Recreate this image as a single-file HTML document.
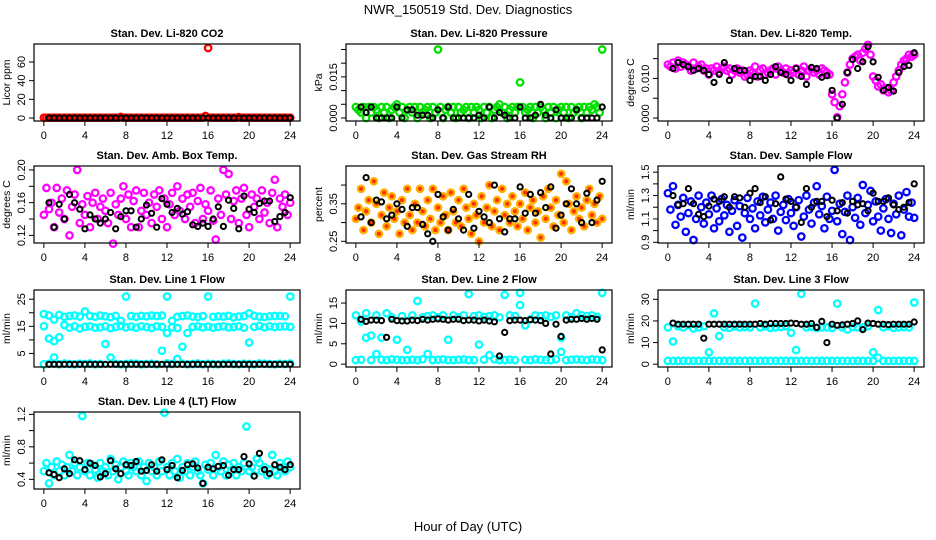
<!DOCTYPE html>
<html><head><meta charset="utf-8"><title>NWR_150519 Std. Dev. Diagnostics</title>
<style>
html,body{margin:0;padding:0;background:#fff;}
svg{display:block;font-family:"Liberation Sans",sans-serif;}
</style></head>
<body>
<svg id="chart" width="936" height="540" viewBox="0 0 936 540" xmlns="http://www.w3.org/2000/svg">
<rect width="936" height="540" fill="#fff"/>
<text x="468" y="14" font-size="13" text-anchor="middle">NWR_150519  Std. Dev. Diagnostics</text>
<text x="468" y="531" font-size="13" text-anchor="middle">Hour of Day (UTC)</text>
</svg>
<script>
// ---- data ----
const co2Red = [0.3,0.3,0.3,0.3,0.3,0.3,0.3,0.3, 0.3,0.3,0.3,0.3,0.3,0.3,0.3,0.3, 0.3,0.3,0.3,0.3,0.3,0.3,0.3,0.3, 0.3,0.3,0.3,0.3,0.3,0.3,1.2,0.3, 0.3,0.3,0.3,0.3,0.3,0.3,0.3,0.3, 0.3,0.3,0.3,0.3,0.3,0.3,0.3,0.3, 0.3,0.3,0.3,0.3,0.3,0.3,0.3,0.3, 0.3,0.3,0.3,0.3,0.3,0.3,0.3,2.2, 75,0.3,0.3,0.3,0.3,0.3,0.3,0.3, 0.3,0.3,0.3,0.3,1.0,0.3,0.3,0.3, 0.3,0.3,0.3,0.3,0.3,0.3,0.3,0.3, 0.3,0.3,0.3,0.3,0.3,0.3,0.3,0.3, 0.3];
const co2Black = [0,0,0,0,0,0,0,0, 0,0,0,0,0,0,0,0, 0,0,0,0,0,0,0,0, 0,0,0,0,0,0,0,0, 0,0,0,0,0,0,0,0, 0,0,0,0,0,0,0,0];
const presGreen = [0.004,0.003,0.002,0.004,0.000,0.004,0.002,0.004, 0.003,0.000,0.004,0.002,0.004,0.000,0.003,0.004, 0.005,0.002,0.004,0.000,0.003,0.004,0.002,0.004, 0.000,0.004,0.002,0.003,0.004,0.000,0.004,0.002, 0.025,0.004,0.000,0.003,0.004,0.002,0.004,0.000, 0.004,0.002,0.003,0.004,0.000,0.004,0.002,0.004, 0.003,0.000,0.004,0.002,0.004,0.000,0.003,0.004, 0.005,0.002,0.004,0.000,0.003,0.004,0.002,0.004, 0.013,0.004,0.002,0.003,0.004,0.000,0.004,0.002, 0.004,0.003,0.000,0.004,0.002,0.004,0.000,0.003, 0.004,0.002,0.004,0.000,0.004,0.002,0.003,0.004, 0.000,0.004,0.002,0.004,0.003,0.005,0.004,0.002, 0.025];
const presBlack = [0.004,0.002,0.004,0,0,0,0,0.004, 0,0.003,0.003,0.001,0.001,0.001,0,0.003, 0,0.004,0,0,0,0,0,0.001, 0,0.004,0,0.002,0.001,0,0,0.004, 0,0,0.001,0.005,0.001,0,0.003,0, 0,0,0.003,0,0,0,0,0.004];
const tempMag = [0.0135,0.013,0.014,0.0125,0.0145,0.013,0.014,0.0135, 0.013,0.012,0.014,0.0125,0.013,0.0135,0.012,0.0125, 0.011,0.0125,0.012,0.013,0.0115,0.0125,0.013,0.012, 0.0125,0.011,0.012,0.0125,0.0115,0.012,0.0105,0.011, 0.012,0.0115,0.013,0.0105,0.012,0.0125,0.011,0.0115, 0.012,0.0125,0.011,0.013,0.012,0.0115,0.0125,0.011, 0.012,0.0115,0.0125,0.011,0.012,0.013,0.0105,0.012, 0.0125,0.0115,0.012,0.011,0.0125,0.012,0.0115,0.011, 0.006,0.004,0.0002,0.003,0.006,0.009,0.0115,0.0135, 0.015,0.0155,0.016,0.0145,0.0165,0.0175,0.0185,0.016, 0.0105,0.0095,0.008,0.0085,0.007,0.0075,0.0065,0.007, 0.009,0.0105,0.012,0.0135,0.0145,0.015,0.016,0.0155, 0.016];
const tempBlack = [0.0125,0.014,0.0135,0.013,0.012,0.0125,0.012,0.011, 0.009,0.011,0.014,0.0095,0.0125,0.012,0.012,0.0095, 0.0105,0.0105,0.0095,0.011,0.013,0.0115,0.011,0.0095, 0.0125,0.0105,0.0085,0.0128,0.0125,0.0103,0.0107,0.007, 0,0.0035,0.0115,0.0148,0.0125,0.0142,0.018,0.0142, 0.0103,0.007,0.0077,0.0068,0.0115,0.013,0.0133,0.0165];
const ambMag = [0.145,0.178,0.152,0.16,0.13,0.178,0.148,0.165, 0.14,0.175,0.12,0.155,0.17,0.2,0.135,0.158, 0.145,0.168,0.13,0.16,0.172,0.14,0.155,0.165, 0.15,0.135,0.172,0.11,0.158,0.145,0.165,0.18, 0.14,0.17,0.13,0.162,0.175,0.13,0.15,0.172, 0.145,0.16,0.135,0.17,0.155,0.175,0.14,0.165, 0.13,0.158,0.172,0.145,0.18,0.15,0.165,0.14, 0.17,0.155,0.172,0.135,0.162,0.178,0.14,0.158, 0.15,0.175,0.138,0.115,0.165,0.145,0.2,0.17, 0.195,0.14,0.162,0.175,0.135,0.165,0.178,0.145, 0.13,0.17,0.155,0.165,0.14,0.175,0.148,0.16, 0.135,0.172,0.188,0.13,0.165,0.155,0.17,0.145, 0.16];
const ambBlack = [0.16,0.13,0.158,0.14,0.17,0.16,0.152,0.128, 0.145,0.14,0.135,0.14,0.148,0.128,0.143,0.15, 0.15,0.13,0.14,0.157,0.147,0.13,0.165,0.158, 0.148,0.153,0.146,0.149,0.133,0.131,0.135,0.131, 0.14,0.155,0.131,0.163,0.153,0.128,0.168,0.152, 0.148,0.159,0.162,0.162,0.137,0.143,0.148,0.166];
const rhOrange = [0.31,0.34,0.39,0.28,0.33,0.36,0.30,0.41, 0.35,0.27,0.32,0.38,0.29,0.34,0.37,0.31, 0.33,0.27,0.36,0.30,0.39,0.32,0.28,0.35, 0.30,0.39,0.33,0.29,0.36,0.31,0.39,0.28, 0.34,0.30,0.37,0.32,0.28,0.38,0.33,0.30, 0.36,0.29,0.39,0.34,0.31,0.27,0.35,0.32, 0.25,0.37,0.30,0.34,0.40,0.29,0.33,0.36, 0.28,0.39,0.32,0.35,0.30,0.37,0.33,0.29, 0.35,0.31,0.38,0.28,0.34,0.36,0.30,0.33, 0.26,0.37,0.31,0.39,0.34,0.29,0.36,0.32, 0.43,0.30,0.41,0.35,0.28,0.33,0.37,0.31, 0.34,0.29,0.36,0.39,0.32,0.35,0.30,0.37, 0.31];
const rhBlack = [0.315,0.42,0.30,0.36,0.355,0.31,0.32,0.35, 0.335,0.29,0.34,0.34,0.295,0.27,0.25,0.375, 0.315,0.28,0.335,0.31,0.28,0.375,0.285,0.33, 0.315,0.30,0.40,0.31,0.275,0.31,0.31,0.395, 0.325,0.375,0.325,0.38,0.34,0.395,0.285,0.32, 0.35,0.39,0.35,0.30,0.378,0.30,0.36,0.41];
const flowBlue = [1.32,1.18,1.38,1.05,1.22,1.12,1.28,0.99, 1.15,1.25,0.92,1.1,1.3,1.2,1.06,1.24, 1.14,1.3,1.02,1.19,1.08,1.27,1.13,1.22, 0.99,1.17,1.26,1.04,1.21,0.94,1.15,1.28, 1.1,1.19,1.02,1.25,1.13,1.29,1.07,1.18, 1.24,1.1,1.3,1.0,1.16,1.22,1.09,1.27, 1.15,1.04,1.2,1.26,0.95,1.12,1.3,1.18, 1.06,1.24,1.38,1.14,1.21,1.02,1.29,1.1, 1.17,1.52,1.08,1.23,0.97,1.16,1.3,0.92, 1.2,1.11,1.28,1.05,1.39,1.15,1.22,1.34, 1.08,1.25,1.12,1.0,1.19,1.27,1.1,0.98, 1.23,1.14,1.3,0.96,1.18,1.33,1.12,1.24, 1.11];
const flowBlack = [1.3,1.22,1.23,1.36,1.23,1.14,1.12,1.21, 1.27,1.25,1.29,1.2,1.29,1.28,1.2,1.32, 1.36,1.24,1.29,1.09,1.23,1.46,1.27,1.25, 1.2,1.07,1.36,1.2,1.25,1.25,1.12,1.26, 1.17,1.24,1.15,1.25,1.22,1.23,1.17,1.32, 1.25,1.25,1.28,1.22,1.18,1.2,1.24,1.4];
const line1Upper = [19.5,19,17.5,19.2,18.5,18.8,19,18.6, 20.5,18.8,18.5,19,18.7,18.4,18.9,17, 26,18.8,18.5,18.9,18.7,19,18.8,19, 26,17,18.5,18.8,19,18.6,18.4,18.8, 26,18.5,18.7,18.6,18.9,18.3,18.6,18.8, 19.8,18.9,18.6,18.4,18.7,18.8,18.9,18.7, 26];
const line1Lower = [15,10.5,9.5,11,15.5,14.5,15,14.2, 14.8,15,14.5,14.6,15,14.3,14.8,15.2, 14.6,14.9,14.5,15,14.7,14.4,15,14.8, 12.5,14.6,14.4,7.5,12.5,14.8,15,14.6, 14.9,14.5,14.8,15,14.6,14.8,15,14.5, 9,14.8,15.2,14.6,15,14.7,14.9,15, 14.8];
const line1Low = [1,1.2,3.5,1,1.3,1.1,1,1.2, 1.1,1.3,1,1.1,8.5,3.5,1.2,1, 1.1,1.3,1.2,1,1.1,1.2,1,6, 1.3,1.1,3,1.2,1,1.1,1.3,1, 1.2,1.1,1,1.2,1.3,1.1,1,1.2, 1.1,1,1.3,1.2,1.1,1,1.2,1.1, 1.3];
const line1Black = [1,1,1,1,1,1,1,1, 1,1,1,1,1,1,1,1, 1,1,1,1,1,1,1,1, 1,1,1,1,1,1,1,1, 1,1,1,1,1,1,1,1, 1,1,1,1,1,1,1,1];
const line2Upper = [12,10.5,12.5,7,12,6.5,12.5,11.5, 6,11.8,3.5,12,15.5,11.5,11.8,12, 11.5,12,6,12,11.5,12,17.2,11.8, 12,11.6,11.8,12,11.5,17,12,11.8, 17.5,9.5,11,12,11.8,12,11.6,12, 6.5,12,11.5,12.5,12,11.8,12,11.6, 17.5];
const line2Low = [1,1.1,6.5,1,2.5,1.1,1,1.2, 1.1,1,1,1.1,1,1.2,2.5,1, 1.1,1.2,1,1,1.1,1.2,1,1, 4.8,1.1,2.2,1.2,1,1,1.1,1, 14.5,1.1,1,1.2,1.1,1,1,1.2, 3,1,1.1,1.2,1.1,1,1.2,1.1, 1];
const line2Black = [11,10.5,10.8,10.8,10.7,6.6,11,10.7, 10.6,10.6,10.8,10.7,11,10.8,11,11.1, 11,10.8,11,11,10.7,10.8,10.8,10.6, 10.8,10.6,10.4,2,7.8,10.7,10.8,10.8, 10.7,10.9,10.8,10.7,10,2.5,9.8,6.8, 10.8,11,11,11.2,11,11.2,11,3.5];
const line3Upper = [17,10.5,17.5,17,18,16.5,17,17.5, 5.5,23.5,13,17,16.8,17.5,17,17.2, 17,28,17,17.5,16.8,17,17.2,17.5, 14.5,6.5,32.5,17,17.2,16.8,17,17, 16.8,28,17,16,17.2,17,17,17.5, 5.5,25,17,17.5,16.8,17,17.2,17, 28.5];
const line3Low = [1.5,1.5,1.5,1.5,1.5,1.5,1.5,1.5, 1.5,1.5,1.5,1.5,1.5,1.5,1.5,1.5, 1.5,1.5,1.5,1.5,1.5,1.5,1.5,1.5, 1.5,1.5,1.5,1.5,1.5,1.5,1.5,1.5, 1.5,1.5,1.5,1.5,1.5,1.5,1.5,1.5, 1.5,3,1.5,1.5,1.5,1.5,1.5,1.5, 1.5];
const line3Black = [19,18.5,18.5,18.5,18.5,18.5,12,18.5, 18.5,18.5,18.5,18.5,18.5,18.5,18.5,18.5, 18.5,18.8,18.5,18.8,18.8,18.8,18.8,19, 18.8,18.5,18.5,18.8,17,19.8,10,18.5, 18,18.2,18.5,18.8,20,16,19,18.8, 18.5,18.5,18.3,18.5,18.5,18.5,18.5,19.5];
const line4Cyan = [0.5,0.6,0.35,0.55,0.45,0.62,0.5,0.58, 0.45,0.55,0.7,0.5,0.6,0.45,0.55,1.18, 0.5,0.6,0.45,0.58,0.52,0.42,0.6,0.5, 0.55,0.45,0.65,0.5,0.58,0.4,0.55,0.62, 0.5,0.45,0.6,0.55,0.5,0.62,0.45,0.55, 0.38,0.6,0.5,0.55,0.45,0.62,0.5,1.22, 0.55,0.45,0.6,0.5,0.65,0.42,0.55,0.5, 0.6,0.45,0.55,0.62,0.5,0.45,0.35,0.58, 0.52,0.6,0.45,0.7,0.55,0.5,0.62,0.45, 0.58,0.5,0.6,0.45,0.55,0.5,0.6,1.05, 0.5,0.55,0.45,0.65,0.6,0.5,0.55,0.45, 0.52,0.7,0.5,0.45,0.6,0.55,0.5,0.62, 0.55];
const line4Black = [0.48,0.46,0.42,0.53,0.47,0.64,0.63,0.52, 0.6,0.57,0.43,0.47,0.63,0.53,0.47,0.58, 0.57,0.62,0.5,0.51,0.58,0.5,0.64,0.52, 0.57,0.42,0.51,0.58,0.59,0.54,0.35,0.55, 0.53,0.56,0.57,0.45,0.52,0.52,0.68,0.59, 0.44,0.72,0.52,0.47,0.58,0.55,0.52,0.58];

const panelTitles = ["Stan. Dev. Li-820 CO2","Stan. Dev. Li-820 Pressure","Stan. Dev. Li-820 Temp.","Stan. Dev. Amb. Box Temp.","Stan. Dev. Gas Stream RH","Stan. Dev. Sample Flow","Stan. Dev. Line 1 Flow","Stan. Dev. Line 2 Flow","Stan. Dev. Line 3 Flow","Stan. Dev. Line 4 (LT) Flow"];
const yTitles = ["Licor ppm","kPa","degrees C","degrees C","percent","ml/min","ml/min","ml/min","ml/min","ml/min"];
const xTicks = [0,4,8,12,16,20,24];

const panels = [
 {ymin:-3.2,ymax:79.3,ticks:[0,20,40,60],labels:["0","20","40","60"],series:[{v:co2Red,c:"#ff0000"},{v:co2Black,c:"#000"}]},
 {ymin:-0.0011,ymax:0.0270,ticks:[0,0.005,0.01,0.015,0.02,0.025],labels:["0.000","","","0.015","",""],series:[{v:presGreen,c:"#00e000"},{v:presBlack,c:"#000"}]},
 {ymin:-0.00075,ymax:0.0187,ticks:[0,0.005,0.01,0.015],labels:["0.000","","0.010",""],series:[{v:tempMag,c:"#ff00ff"},{v:tempBlack,c:"#000"}]},
 {ymin:0.1107,ymax:0.2048,ticks:[0.12,0.14,0.16,0.18,0.20],labels:["0.12","","0.16","","0.20"],series:[{v:ambMag,c:"#ff00ff"},{v:ambBlack,c:"#000"}]},
 {ymin:0.2455,ymax:0.4508,ticks:[0.25,0.30,0.35,0.40],labels:["0.25","","0.35",""],series:[{v:rhOrange,c:"#ffb000",fill:"#ff3000"},{v:rhBlack,c:"#000"}]},
 {ymin:0.894,ymax:1.553,ticks:[0.9,1.0,1.1,1.2,1.3,1.4,1.5],labels:["0.9","","1.1","","1.3","","1.5"],series:[{v:flowBlue,c:"#0000ff"},{v:flowBlack,c:"#000"}]},
 {ymin:0,ymax:28.4,ticks:[5,10,15,20,25],labels:["5","","15","","25"],series:[{v:line1Upper,c:"#00ffff"},{v:line1Lower,c:"#00ffff"},{v:line1Low,c:"#00ffff"},{v:line1Black,c:"#000"}]},
 {ymin:-0.7,ymax:18.2,ticks:[0,5,10,15],labels:["0","5","10","15"],series:[{v:line2Upper,c:"#00ffff"},{v:line2Low,c:"#00ffff"},{v:line2Black,c:"#000"}]},
 {ymin:-1.3,ymax:34.3,ticks:[0,10,20,30],labels:["0","10","20","30"],series:[{v:line3Upper,c:"#00ffff"},{v:line3Low,c:"#00ffff"},{v:line3Black,c:"#000"}]},
 {ymin:0.281,ymax:1.229,ticks:[0.4,0.6,0.8,1.0,1.2],labels:["0.4","","0.8","","1.2"],series:[{v:line4Cyan,c:"#00ffff"},{v:line4Black,c:"#000"}]}
];

const NS = "http://www.w3.org/2000/svg";
const svg = document.getElementById("chart");
const colLeft = [34,346,658], rowTop = [44,166,290,412], W = 266, H = 77;
function mk(tag, attrs, parent){ const e=document.createElementNS(NS,tag); for(const k in attrs) e.setAttribute(k,attrs[k]); parent.appendChild(e); return e; }

panels.forEach((p, idx) => {
  const L = colLeft[idx%3], T = rowTop[Math.floor(idx/3)];
  const g = mk("g", {}, svg);
  
  
  const xS = h => L + 9.85 + h * (246.3/24);
  const yS = v => T + H - (v - p.ymin) / (p.ymax - p.ymin) * H;

  const title = mk("text", {x:L+W/2, y:T-7, "font-size":11, "font-weight":"bold", "text-anchor":"middle"}, g);
  title.textContent = panelTitles[idx];
  
  

  const yt = mk("text", {transform:`translate(${L-24},${T+H/2}) rotate(-90)`, "font-size":10.5, "text-anchor":"middle"}, g);
  yt.textContent = yTitles[idx];
  
  

  p.series.forEach((s, si) => {
    const sg = mk("g", {}, g);
    
    
    const n = s.v.length;
    const isBlack = s.c === "#000";
    s.v.forEach((val, i) => {
      const h = isBlack ? 0.5 + i * 23.5 / (n - 1) : i * 24 / (n - 1);
      const c = mk("circle", {cx:xS(h).toFixed(1), cy:yS(val).toFixed(1), r:isBlack?2.6:3.2, fill:s.fill||"none", stroke:s.c, "stroke-width":isBlack?2:2.3}, sg);
      
      
    });
  });

  const box = mk("rect", {x:L, y:T, width:W, height:H, fill:"none", stroke:"#000", "stroke-width":1.2}, g);
  
  

  const xa = mk("g", {}, g);
  
  
  xTicks.forEach(t => {
    mk("line", {x1:xS(t), x2:xS(t), y1:T+H, y2:T+H+5, stroke:"#000", "stroke-width":1}, xa);
    const tl = mk("text", {x:xS(t), y:T+H+18, "font-size":11, "text-anchor":"middle"}, xa);
    tl.textContent = t;
    
    
  });
  const ya = mk("g", {}, g);
  
  
  p.ticks.forEach((t, ti) => {
    const y = yS(t);
    mk("line", {x1:L-5, x2:L, y1:y, y2:y, stroke:"#000", "stroke-width":1}, ya);
    if (p.labels[ti]) {
      const tl = mk("text", {transform:`translate(${L-9},${y}) rotate(-90)`, "font-size":11, "text-anchor":"middle"}, ya);
      tl.textContent = p.labels[ti];
      
      
    }
  });
});
</script>
</body></html>
